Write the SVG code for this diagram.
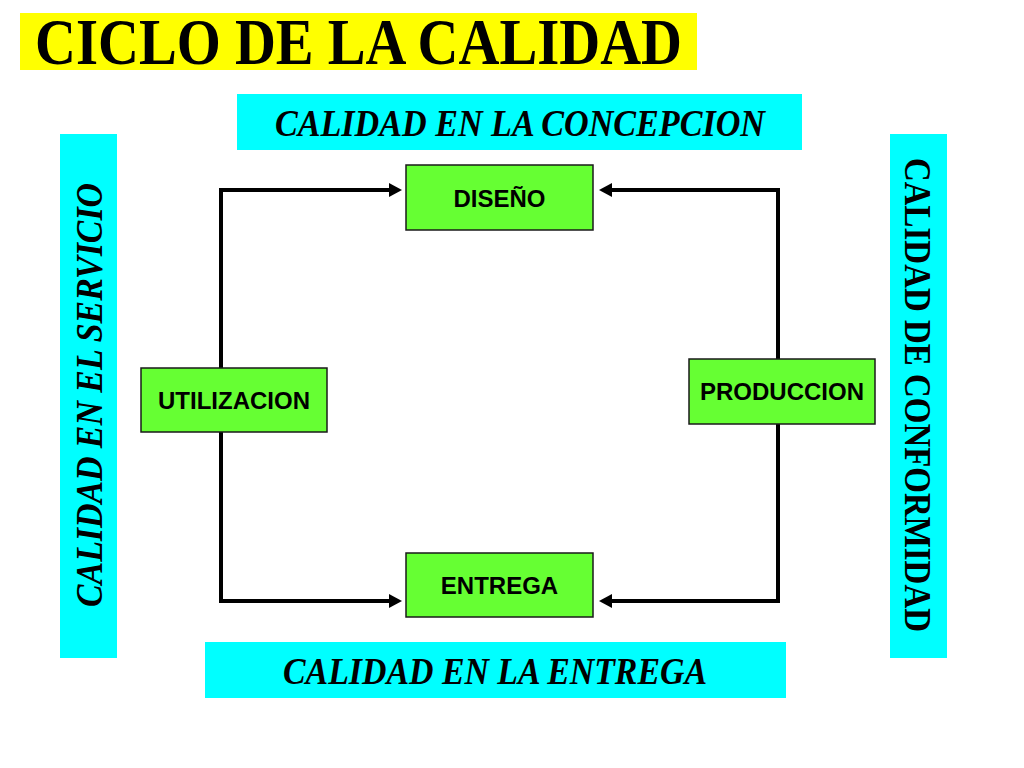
<svg xmlns="http://www.w3.org/2000/svg" width="1024" height="768" viewBox="0 0 1024 768">
<style>
.band{fill:#00FFFF;}
.serif{font-family:"Liberation Serif","Times New Roman",serif;font-weight:bold;fill:#000;}
.it{font-style:italic;}
.box{fill:#66FF33;stroke:#1a1a1a;stroke-width:1.5;}
.lbl{font-family:"Liberation Sans",Arial,sans-serif;font-weight:bold;font-size:24px;fill:#000;text-anchor:middle;}
.conn{fill:none;stroke:#000;stroke-width:4;stroke-linejoin:miter;marker-end:url(#arr);}
</style>
<defs>
<marker id="arr" markerUnits="userSpaceOnUse" markerWidth="13" markerHeight="14" refX="0" refY="7" orient="auto">
<path d="M0,0 L13,7 L0,14 z" fill="#000"/>
</marker>
</defs>
<rect width="1024" height="768" fill="#fff"/>

<g id="title">
<rect x="20" y="13" width="677" height="57" fill="#FFFF00"/>
<text class="serif" x="35" y="64" font-size="66" textLength="647" lengthAdjust="spacingAndGlyphs">CICLO DE LA CALIDAD</text>
</g>

<g id="calidad-concepcion">
<rect class="band" x="237" y="94" width="565" height="56"/>
<text class="serif it" x="275" y="136" font-size="37" textLength="490" lengthAdjust="spacingAndGlyphs">CALIDAD EN LA CONCEPCION</text>
</g>

<g id="calidad-servicio">
<rect class="band" x="60" y="134" width="57" height="524"/>
<text class="serif it" transform="translate(102,395) rotate(-90)" x="0" y="0" font-size="37" text-anchor="middle" textLength="424" lengthAdjust="spacingAndGlyphs">CALIDAD EN EL SERVICIO</text>
</g>

<g id="calidad-conformidad">
<rect class="band" x="890" y="134" width="57" height="524"/>
<text class="serif" transform="translate(905,395) rotate(90)" x="0" y="0" font-size="37" text-anchor="middle" textLength="474" lengthAdjust="spacingAndGlyphs">CALIDAD DE CONFORMIDAD</text>
</g>

<g id="calidad-entrega">
<rect class="band" x="205" y="642" width="581" height="56"/>
<text class="serif it" x="283" y="684" font-size="37" textLength="424" lengthAdjust="spacingAndGlyphs">CALIDAD EN LA ENTREGA</text>
</g>

<g id="connectors">
<path class="conn" d="M221,368 L221,190 L389,190"/>
<path class="conn" d="M221,432 L221,601 L389,601"/>
<path class="conn" d="M778,359 L778,190 L612,190"/>
<path class="conn" d="M778,424 L778,601 L612,601"/>
</g>

<g id="diseno">
<rect class="box" x="406" y="165" width="187" height="65"/>
<text class="lbl" x="499.5" y="207" font-size="22">DISEÑO</text>
</g>

<g id="utilizacion">
<rect class="box" x="141" y="368" width="186" height="64"/>
<text class="lbl" x="234" y="409">UTILIZACION</text>
</g>

<g id="produccion">
<rect class="box" x="689" y="359" width="186" height="65"/>
<text class="lbl" x="782" y="400">PRODUCCION</text>
</g>

<g id="entrega">
<rect class="box" x="406" y="553" width="187" height="64"/>
<text class="lbl" x="499.5" y="594">ENTREGA</text>
</g>
</svg>
